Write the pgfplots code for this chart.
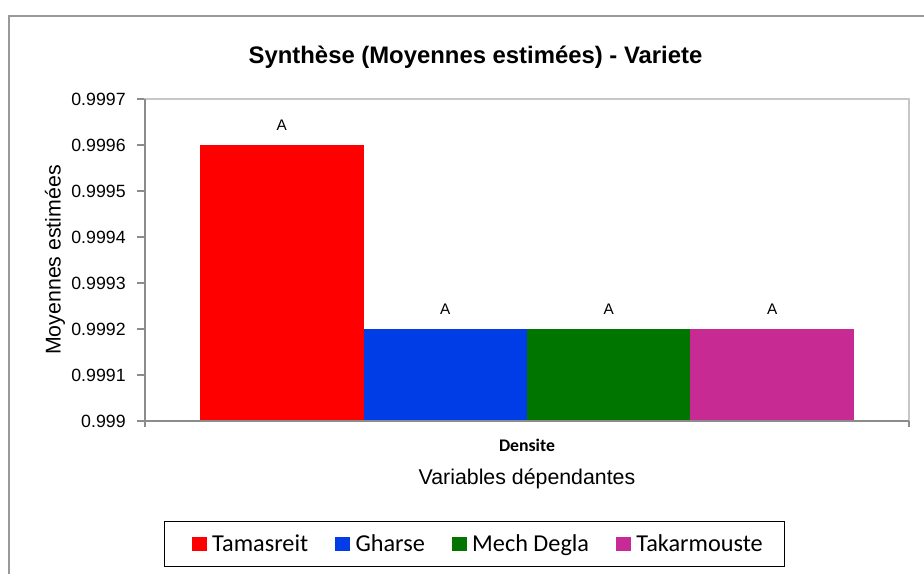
\documentclass[border=0pt]{standalone}
\usepackage{fontspec}
\setmainfont{Liberation Sans}
\newfontfamily\carlito{Carlito}
\usepackage{pgfplots}
\usepackage{pgfplotstable}
\pgfplotsset{compat=1.18}

\definecolor{cTam}{RGB}{255,0,0}
\definecolor{cGha}{RGB}{0,61,230}
\definecolor{cMec}{RGB}{0,118,0}
\definecolor{cTak}{RGB}{200,42,148}

% estimated means (Densite), one table per variety
\pgfplotstableread{
pos mean
1 0.9996
}\tamasreit
\pgfplotstableread{
pos mean
2 0.9992
}\gharse
\pgfplotstableread{
pos mean
3 0.9992
}\mechdegla
\pgfplotstableread{
pos mean
4 0.9992
}\takarmouste

\begin{document}
\begin{tikzpicture}
% page = 924x574 px, 1 px = 0.75 pt
\useasboundingbox (0,0) rectangle (693pt,430.5pt);
\fill[white] (0,0) rectangle (693pt,430.5pt);
\draw[black!40, line width=0.8pt] (6.75pt,0) -- (6.75pt,418.5pt) -- (693pt,418.5pt);
\begin{axis}[
    at={(108.75pt,114.75pt)}, anchor=south west,
    scale only axis, width=573pt, height=241.5pt,
    clip=false,
    % y is measured from the axis floor 0.999 in steps of 0.0001
    xmin=0.163, xmax=4.837,
    ymin=0, ymax=7,
    ytick={0,1,2,3,4,5,6,7},
    yticklabels={0.999,0.9991,0.9992,0.9993,0.9994,0.9995,0.9996,0.9997},
    ytick pos=left,
    xtick={2.5}, xticklabels={Densite},
    x tick style={draw=none},
    y tick style={draw=black!45, line width=0.8pt},
    tick align=outside, major tick length=6pt,
    axis line style={draw=black!22, line width=0.8pt},
    /pgf/number format/assume math mode=true,
    yticklabel style={font=\fontsize{13.3pt}{15pt}\selectfont, xshift=-5pt},
    xticklabel style={font=\carlito\bfseries\fontsize{13.3pt}{15pt}\selectfont, anchor=center, yshift=-12pt},
    title={Synthèse (Moyennes estimées) - Variete},
    title style={at={(axis description cs:0.4326,1.1056)}, anchor=center,
        font=\bfseries\fontsize{17.9pt}{21pt}\selectfont},
    ylabel={Moyennes estimées},
    ylabel style={at={(axis description cs:-0.1178,0.5)}, anchor=center,
        font=\fontsize{16pt}{19pt}\selectfont},
    xlabel={Variables dépendantes},
    xlabel style={at={(axis description cs:0.5,-0.18)}, anchor=center,
        font=\fontsize{16pt}{19pt}\selectfont},
    every axis plot/.append style={ybar, bar width=1, bar shift=0pt, draw=none},
    nodes near coords={A},
    every node near coord/.append style={anchor=center, yshift=15pt, text=black,
        font=\fontsize{11.5pt}{13pt}\selectfont},
    legend columns=4,
    legend image code/.code={\path (-6pt,0pt) (13.5pt,0pt);
        \fill[#1] (0pt,-5.6pt) rectangle (11.25pt,5.6pt);},
    legend style={at={(axis description cs:0.4313,-0.382)}, anchor=center,
        draw=black, line width=0.8pt,
        font=\carlito\fontsize{18.2pt}{21pt}\selectfont,
        inner xsep=14.5pt, inner ysep=8pt,
        /tikz/every even column/.append style={column sep=12pt}},
]
\addplot[fill=cTam] table[x=pos, y expr=(\thisrow{mean}-0.999)*10000] {\tamasreit};
\addlegendentry{Tamasreit}
\addplot[fill=cGha] table[x=pos, y expr=(\thisrow{mean}-0.999)*10000] {\gharse};
\addlegendentry{Gharse}
\addplot[fill=cMec] table[x=pos, y expr=(\thisrow{mean}-0.999)*10000] {\mechdegla};
\addlegendentry{Mech Degla}
\addplot[fill=cTak] table[x=pos, y expr=(\thisrow{mean}-0.999)*10000] {\takarmouste};
\addlegendentry{Takarmouste}

% gray axis lines on left and bottom, with boundary ticks
\draw[black!45, line width=0.8pt] (rel axis cs:0,1) -- (rel axis cs:0,0) -- (rel axis cs:1,0);
\draw[black!45, line width=0.8pt] (rel axis cs:0,0) -- ++(0pt,-4.5pt);
\draw[black!45, line width=0.8pt] (rel axis cs:1,0) -- ++(0pt,-4.5pt);
\end{axis}
\end{tikzpicture}
\end{document}
